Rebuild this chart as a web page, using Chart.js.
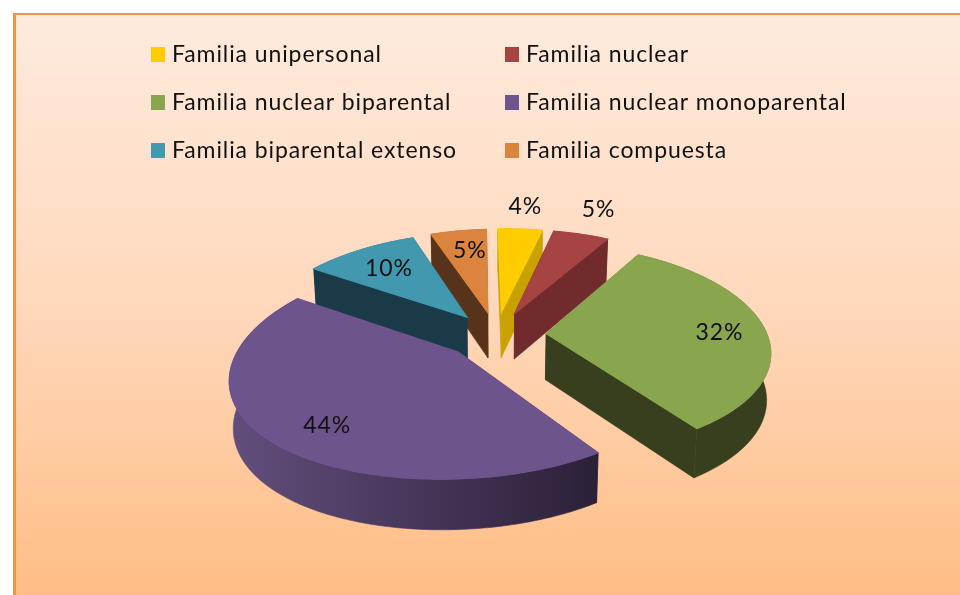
<!DOCTYPE html>
<html>
<head>
<meta charset="utf-8">
<style>html,body{margin:0;padding:0;background:#fff}canvas{display:block}</style>
<script src="https://cdn.jsdelivr.net/npm/chart.js@4"></script>
</head>
<body>
<canvas id="c" width="960" height="595"></canvas>
<script>
const categories = ["Familia unipersonal","Familia nuclear","Familia nuclear biparental","Familia nuclear monoparental","Familia biparental extenso","Familia compuesta"];
const values = [4,5,32,44,10,5];
const topColors = ["#FFCC00","#A54443","#89A54E","#6E548D","#4198AF","#DB843D"];
const sideColors = ["#C9A200","#722B2C","#383F1F","#4A3A60","#1A3A48","#56331A"];
const purpleSide = ["#624E7C","#2B2038"];

// perspective view of the pie plane
const view = {cx:496, cy:335, rx:218, ry:102, kx:0.185, ky:0.15, depth:46, taper:0.985, tilt:0.025, shear:0.03};
// label placement relative to each slice: radius factor and angle shift (degrees)
const labelRadius = [1.325,1.365,0.79,0.78,0.705,0.73];
const labelShift = [0,-0.6,2,-6,0,1.8];
const legendLayout = {cols:[151,505], rows:[47,95,143], box:[14,15], textGap:21};
const FONT = '23px Lato';

function project(X,Y,down){
  const bx = view.rx*X/(1+view.kx*Y), by = -view.ry*Y/(1+view.ky*Y);
  let sx = view.cx + bx + view.shear*by;
  let sy = view.cy + by - view.tilt*bx;
  if(down){ sx = view.cx + (sx-view.cx)*view.taper; sy += view.depth/Math.sqrt(1+view.ky*Y); }
  return [sx,sy];
}
function sliceGeom(arc){
  const p = arc.getProps(['startAngle','endAngle','outerRadius']);
  const mid = (p.startAngle+p.endAngle)/2;
  const e = (arc.options.offset||0)/p.outerRadius;
  return {a0:p.startAngle,a1:p.endAngle,mid,ox:e*Math.cos(mid),oy:-e*Math.sin(mid)};
}
function rim(g,n){
  const pts=[];
  for(let i=0;i<=n;i++){
    const a=g.a0+(g.a1-g.a0)*i/n;
    pts.push([g.ox+Math.cos(a), g.oy-Math.sin(a)]);
  }
  return pts;
}
function poly(ctx,pts,fill,lw){
  ctx.beginPath();
  pts.forEach((q,i)=> i?ctx.lineTo(q[0],q[1]):ctx.moveTo(q[0],q[1]));
  ctx.closePath();
  ctx.fillStyle=fill; ctx.fill();
  ctx.lineWidth=lw||0.6; ctx.strokeStyle=fill; ctx.stroke();
}
const pie3d = {
  id:'pie3d',
  beforeDraw(chart){
    const ctx=chart.ctx;
    ctx.save();
    ctx.fillStyle='#fff'; ctx.fillRect(0,0,960,595);
    const g=ctx.createLinearGradient(0,15,0,595);
    g.addColorStop(0,'#FEEBDD'); g.addColorStop(0.5,'#FFD8BC'); g.addColorStop(1,'#FFBD85');
    ctx.fillStyle='#F9933F'; ctx.fillRect(13,13,947,582);
    ctx.fillStyle=g; ctx.fillRect(16,15,944,580);
    ctx.restore();
  },
  beforeDatasetDraw(chart,args){
    const ctx=chart.ctx, arcs=args.meta.data;
    const order=arcs.map((a,i)=>({i,g:sliceGeom(a)})).sort((p,q)=>q.g.oy-p.g.oy);
    ctx.save();
    order.forEach(({i,g})=>{
      const n=Math.max(4,Math.ceil((g.a1-g.a0)*60));
      const r=rim(g,n), apex=[g.ox,g.oy];
      const t=r.map(q=>project(q[0],q[1],false)), b=r.map(q=>project(q[0],q[1],true));
      const at=project(apex[0],apex[1],false), ab=project(apex[0],apex[1],true);
      let side=sideColors[i];
      poly(ctx,[at,t[0],b[0],ab],side);
      poly(ctx,[at,t[n],b[n],ab],side);
      if(values[i]===Math.max(...values)){
        const xs=t.concat(b).map(q=>q[0]);
        const gr=ctx.createLinearGradient(Math.min(...xs),0,Math.max(...xs),0);
        gr.addColorStop(0,purpleSide[0]); gr.addColorStop(1,purpleSide[1]);
        side=gr;
      }
      poly(ctx,t.concat(b.slice().reverse()),side);
      poly(ctx,[at].concat(t),topColors[i],1.2);
    });
    ctx.restore();
    return false;
  },
  afterDatasetsDraw(chart){
    const ctx=chart.ctx, arcs=chart.getDatasetMeta(0).data;
    ctx.save();
    ctx.font=FONT; ctx.letterSpacing='0.9px'; ctx.fillStyle='#111'; ctx.textAlign='center'; ctx.textBaseline='middle';
    arcs.forEach((arc,i)=>{
      const g=sliceGeom(arc);
      const a=g.mid+labelShift[i]*Math.PI/180;
      const q=project(g.ox+labelRadius[i]*Math.cos(a), g.oy-labelRadius[i]*Math.sin(a), false);
      ctx.fillText(values[i]+'%',q[0],q[1]);
    });
    ctx.textAlign='left'; ctx.textBaseline='alphabetic';
    categories.forEach((lab,i)=>{
      const x=legendLayout.cols[i%2], y=legendLayout.rows[Math.floor(i/2)];
      ctx.fillStyle=topColors[i];
      ctx.fillRect(x,y,legendLayout.box[0],legendLayout.box[1]);
      ctx.fillStyle='#111';
      ctx.fillText(lab,x+legendLayout.textGap,y+15);
    });
    ctx.restore();
  }
};
new Chart(document.getElementById('c'),{
  type:'pie',
  data:{labels:categories,datasets:[{data:values,backgroundColor:topColors,borderWidth:0,offset:61.4}]},
  options:{responsive:false,animation:false,rotation:0,
    plugins:{legend:{display:false},tooltip:{enabled:false}}},
  plugins:[pie3d]
});
</script>
</body>
</html>
